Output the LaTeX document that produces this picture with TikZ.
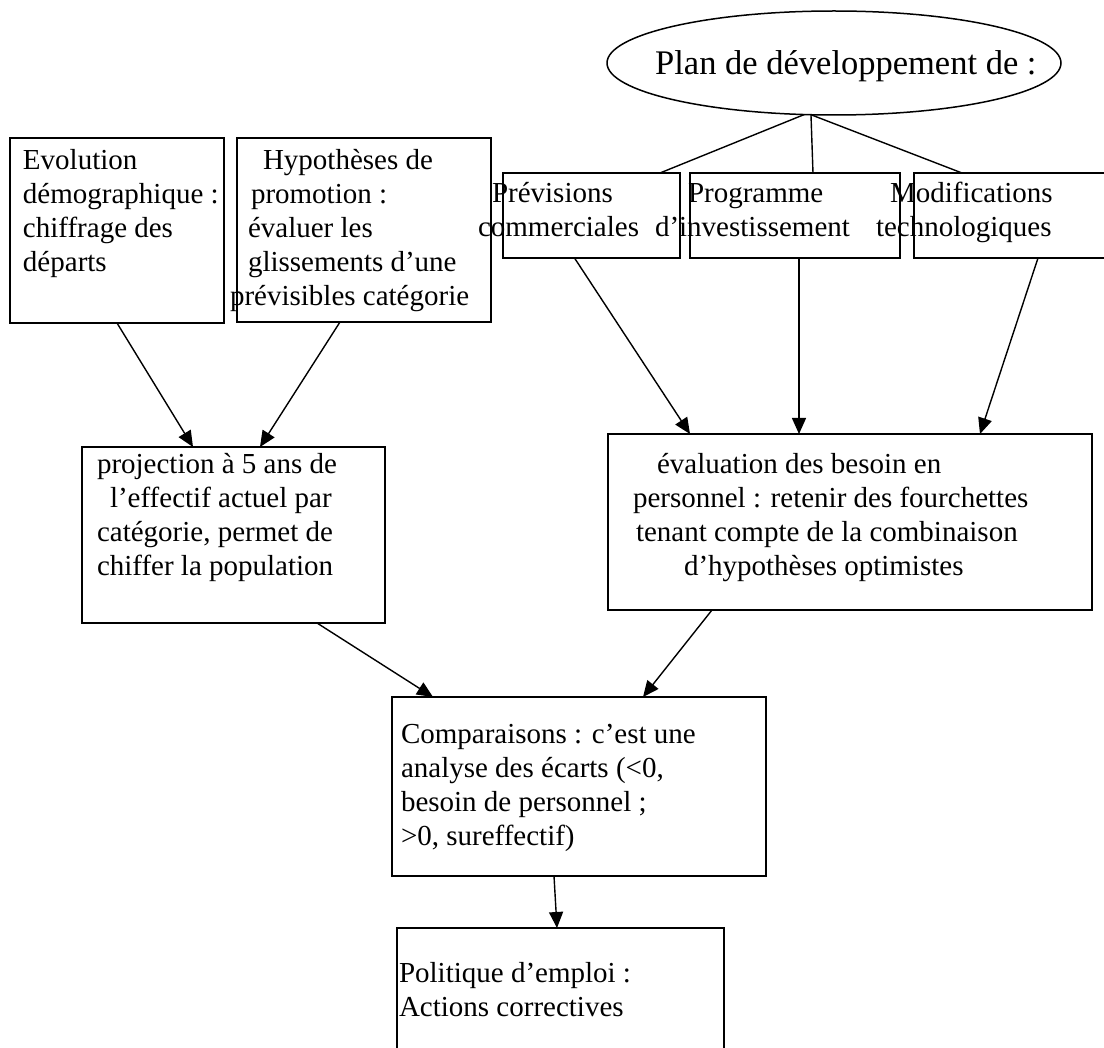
\documentclass[tikz,border=0pt]{standalone}
\usepackage{fontspec}
\setmainfont{Liberation Serif}
\usetikzlibrary{arrows.meta,calc,shapes.geometric}
% one line of a text block, optionally indented by #1 pt
\newcommand\TLine[2][0]{\hbox{\hspace*{#1pt}#2}}
\begin{document}
\begin{tikzpicture}[x=1pt,y=-1pt,
  box/.style={draw,line width=1.5pt,rectangle,anchor=north west,inner sep=0pt,outer sep=0pt},
  txt/.style={anchor=base west,inner sep=0pt,outer sep=0pt,font=\fontsize{29}{34}\selectfont},
  link/.style={line width=1.4pt},
  arr/.style={line width=1.4pt,-{Triangle[length=16pt,width=14pt]}}]
\fill[white] (0,0) rectangle (1104,1048);
\useasboundingbox (0,0) rectangle (1104,1048);
\clip (0,0) rectangle (1104,1048);

% top ellipse
\node[draw,ellipse,line width=1.5pt,minimum width=454pt,minimum height=104pt,
      inner sep=0pt,outer sep=0pt] (plan) at (834,63) {};
\node[anchor=base west,inner sep=0pt,font=\fontsize{34.5}{40}\selectfont]
  (plantext) at (655,75) {Plan de développement de :};

% boxes
\node[box,minimum width=214pt,minimum height=185pt] (evol)  at (10,138)  {};
\node[box,minimum width=254pt,minimum height=184pt] (hypo)  at (237,138) {};
\node[box,minimum width=177pt,minimum height=85pt]  (prev)  at (503,173) {};
\node[box,minimum width=210pt,minimum height=85pt]  (prog)  at (690,173) {};
\node[box,minimum width=200pt,minimum height=85pt]  (modif) at (914,173) {};
\node[box,minimum width=303pt,minimum height=176pt] (proj)  at (82,447)  {};
\node[box,minimum width=484pt,minimum height=176pt] (eval)  at (608,434) {};
\node[box,minimum width=374pt,minimum height=179pt] (comp)  at (392,697) {};
\node[box,minimum width=327pt,minimum height=140pt] (poli)  at (397,928) {};

% texts
\node[txt] (evoltext) at (23,170) {\vtop{\TLine{Evolution}\TLine{démographique :}%
  \TLine{chiffrage des}\TLine{départs}}};
\node[txt] (hypotext) at (230,170) {\vtop{\TLine[33]{Hypothèses de}\TLine[21]{promotion :}%
  \TLine[18]{évaluer les}\TLine[18]{glissements d’une}\TLine{prévisibles catégorie}}};
\node[txt] (prevtext) at (478,203) {\vtop{\TLine[14]{Prévisions}\TLine{commerciales}}};
\node[txt] (progtext) at (655,203) {\vtop{\TLine[33]{Programme}\TLine{d’investissement}}};
\node[txt] (modiftext) at (876,203) {\vtop{\TLine[14]{Modifications}\TLine{technologiques}}};
\node[txt] (projtext) at (97,474) {\vtop{\TLine{projection à 5 ans de}\TLine[13]{l’effectif actuel par}%
  \TLine{catégorie, permet de}\TLine{chiffer la population}}};
\node[txt] (evaltext) at (633,474) {\vtop{\TLine[24]{évaluation des besoin en}%
  \TLine{personnel : retenir des fourchettes}\TLine[3]{tenant compte de la combinaison}%
  \TLine[51]{d’hypothèses optimistes}}};
\node[txt] (comptext) at (401,743) {\vtop{\TLine{Comparaisons : c’est une}%
  \TLine{analyse des écarts (<0,}\TLine{besoin de personnel ;}\TLine{>0, sureffectif)}}};
\node[txt] (politext) at (399,982) {\vtop{\TLine{Politique d’emploi :}\TLine{Actions correctives}}};

% links from the ellipse
\draw[link] (plan.240) -- ($(prev.north west)+(157,0)$);
\draw[link] (plan.246) -- ($(prog.north west)+(123,0)$);
\draw[link] (plan.246) -- ($(modif.north west)+(48,0)$);

% arrows
\draw[arr] (evol.south) -- ($(proj.north west)+(111,0)$);
\draw[arr] ($(hypo.south)+(-24,0)$) -- ($(proj.north west)+(178,0)$);
\draw[arr] ($(prev.south)+(-17,0)$) -- ($(eval.north west)+(82,0)$);
\draw[arr] ($(prog.south)+(4,0)$) -- ($(eval.north west)+(191,0)$);
\draw[arr] ($(modif.south west)+(124,0)$) -- ($(eval.north west)+(372,0)$);
\draw[arr] ($(proj.south west)+(235,0)$) -- ($(comp.north west)+(41,0)$);
\draw[arr] ($(eval.south west)+(104,0)$) -- ($(comp.north west)+(251,0)$);
\draw[arr] ($(comp.south west)+(162,0)$) -- ($(poli.north west)+(160,0)$);
\end{tikzpicture}
\end{document}
